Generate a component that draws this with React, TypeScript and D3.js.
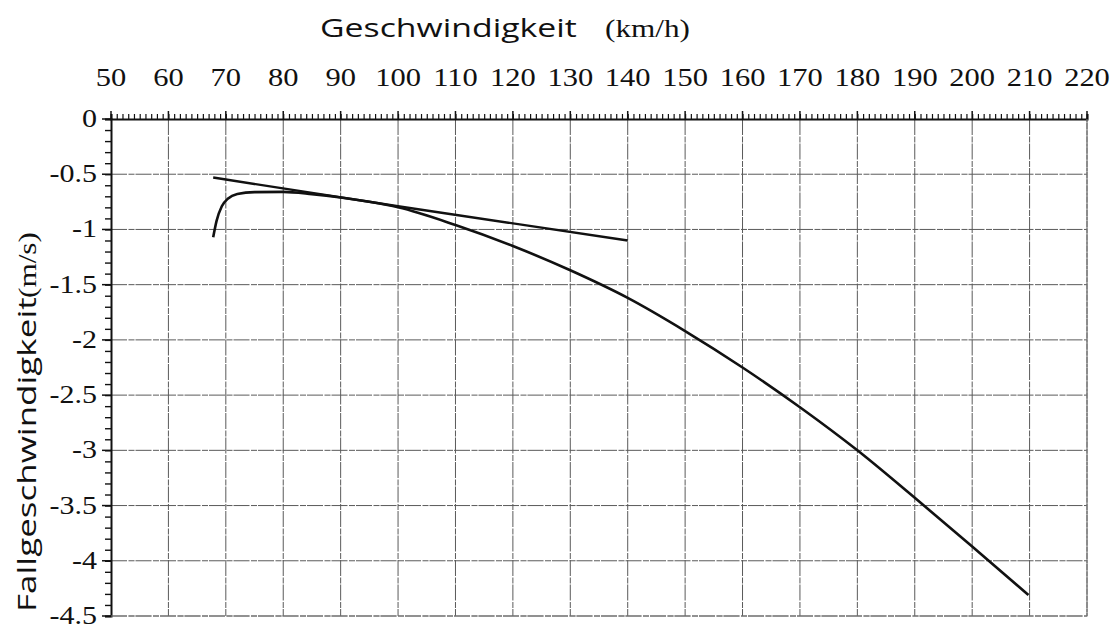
import React, { useRef, useEffect } from 'react';
import * as d3 from 'd3';

// x axis: speed (km/h), y axis: sink rate (m/s)
const speedTicks = [50, 60, 70, 80, 90, 100, 110, 120, 130, 140, 150, 160, 170, 180, 190, 200, 210, 220];
const sinkTicks = [0, -0.5, -1, -1.5, -2, -2.5, -3, -3.5, -4, -4.5];
const sinkTickLabels = ['0', '-0.5', '-1', '-1.5', '-2', '-2.5', '-3', '-3.5', '-4', '-4.5'];

// polar curve
const polarSpeed = [67.8, 68.4, 69.3, 70.4, 72, 75, 80, 85, 90, 95, 100, 110, 120, 130, 140, 150, 160, 170, 180, 190, 200, 209.8];
const polarSink = [-1.07, -0.92, -0.79, -0.72, -0.68, -0.662, -0.66, -0.68, -0.71, -0.75, -0.8, -0.96, -1.15, -1.37, -1.62, -1.92, -2.25, -2.61, -3.0, -3.43, -3.87, -4.31];

// tangent line
const tangentSpeed = [67.8, 100, 140];
const tangentSink = [-0.53, -0.79, -1.1];

const serif = "'Liberation Serif', 'Times New Roman', Times, serif";
const sans = "'Open Sans', sans-serif";

const App = () => {
    const svgRef = useRef<SVGSVGElement>(null);

    useEffect(() => {
        const svg = d3.select(svgRef.current);
        svg.selectAll('*').remove();

        const width = 1113;
        const height = 628;
        const margin = { top: 119, right: 26, bottom: 12, left: 111 };

        const x = d3.scaleLinear()
            .domain([50, 220])
            .range([margin.left, width - margin.right]);

        const y = d3.scaleLinear()
            .domain([0, -4.5])
            .range([margin.top, height - margin.bottom]);

        svg.append('rect')
            .attr('width', width)
            .attr('height', height)
            .attr('fill', 'white');

        // grid
        const grid = svg.append('g')
            .attr('stroke', '#5a5a5a')
            .attr('stroke-width', 1)
            .attr('stroke-dasharray', '16,1.5,6,1');

        grid.selectAll('.vgrid')
            .data(speedTicks.slice(1))
            .join('line')
            .attr('x1', d => x(d))
            .attr('x2', d => x(d))
            .attr('y1', y(0))
            .attr('y2', y(-4.5));

        grid.selectAll('.hgrid')
            .data(sinkTicks.slice(1))
            .join('line')
            .attr('x1', x(50))
            .attr('x2', x(220))
            .attr('y1', d => y(d))
            .attr('y2', d => y(d));

        // top axis with fine ticks
        const topAxis = svg.append('g')
            .attr('transform', `translate(0,${y(0)})`)
            .call(d3.axisTop(x)
                .tickValues(d3.range(50, 221, 1))
                .tickSize(5)
                .tickFormat(() => ''))
            .call(g => g.selectAll('line').attr('stroke', '#111').attr('stroke-width', 1.2))
            .call(g => g.select('.domain').attr('stroke', '#111').attr('stroke-width', 2));

        topAxis.selectAll('.major')
            .data(speedTicks)
            .join('line')
            .attr('x1', d => x(d))
            .attr('x2', d => x(d))
            .attr('y1', 0)
            .attr('y2', -8)
            .attr('stroke', '#111')
            .attr('stroke-width', 1.5);

        svg.append('g')
            .selectAll('text')
            .data(speedTicks)
            .join('text')
            .attr('transform', d => `translate(${x(d)},86) scale(1.22,1)`)
            .attr('text-anchor', 'middle')
            .style('font-family', serif)
            .style('font-size', '25px')
            .attr('fill', '#111')
            .text(d => d);

        // left axis with minor ticks
        svg.append('g')
            .attr('transform', `translate(${x(50)},0)`)
            .call(d3.axisLeft(y)
                .tickValues(d3.range(0, -4.51, -0.1))
                .tickSize(6)
                .tickFormat(() => ''))
            .call(g => g.selectAll('line').attr('stroke', '#111').attr('stroke-width', 1.4))
            .call(g => g.select('.domain').attr('stroke', '#111').attr('stroke-width', 2));

        svg.append('g')
            .selectAll('line')
            .data(sinkTicks)
            .join('line')
            .attr('x1', x(50) - 9)
            .attr('x2', x(50))
            .attr('y1', d => y(d))
            .attr('y2', d => y(d))
            .attr('stroke', '#111')
            .attr('stroke-width', 1.5);

        svg.append('g')
            .selectAll('text')
            .data(sinkTicks)
            .join('text')
            .attr('transform', d => `translate(97,${y(d) + 8}) scale(1.2,1)`)
            .attr('text-anchor', 'end')
            .style('font-family', serif)
            .style('font-size', '25px')
            .attr('fill', '#111')
            .text((d, i) => sinkTickLabels[i]);

        // right and bottom frame
        svg.append('path')
            .attr('d', `M${x(50)},${y(-4.5)}H${x(220)}V${y(0)}`)
            .attr('fill', 'none')
            .attr('stroke', '#777')
            .attr('stroke-width', 1.2)
            .attr('stroke-dasharray', '16,1.5,6,1');

        // curves
        const polarLine = d3.line<number>()
            .x(d => x(polarSpeed[d]))
            .y(d => y(polarSink[d]))
            .curve(d3.curveMonotoneX);

        svg.append('path')
            .datum(d3.range(polarSpeed.length))
            .attr('fill', 'none')
            .attr('stroke', '#111')
            .attr('stroke-width', 2.6)
            .attr('d', polarLine);

        const tangentLine = d3.line<number>()
            .x(d => x(tangentSpeed[d]))
            .y(d => y(tangentSink[d]));

        svg.append('path')
            .datum(d3.range(tangentSpeed.length))
            .attr('fill', 'none')
            .attr('stroke', '#111')
            .attr('stroke-width', 2.4)
            .attr('d', tangentLine);

        // titles
        svg.append('text')
            .attr('transform', 'translate(320,37) scale(1.3,1)')
            .style('font-family', sans)
            .style('font-size', '26px')
            .attr('fill', '#111')
            .text('Geschwindigkeit');

        svg.append('text')
            .attr('transform', 'translate(605,37) scale(1.2,1)')
            .style('font-family', serif)
            .style('font-size', '26px')
            .attr('fill', '#111')
            .text('(km/h)');

        svg.append('text')
            .attr('transform', 'translate(36,612) rotate(-90) scale(1.4,1)')
            .style('font-family', sans)
            .style('font-size', '25px')
            .attr('fill', '#111')
            .text('Fallgeschwindigkeit');

        svg.append('text')
            .attr('transform', 'translate(36,298) rotate(-90) scale(1.2,1)')
            .style('font-family', serif)
            .style('font-size', '26px')
            .attr('fill', '#111')
            .text('(m/s)');
    }, []);

    return (
        <svg
            ref={svgRef}
            width={1113}
            height={628}
            style={{ position: 'absolute', left: 0, top: 0, display: 'block' }}
        />
    );
};

export default App;
